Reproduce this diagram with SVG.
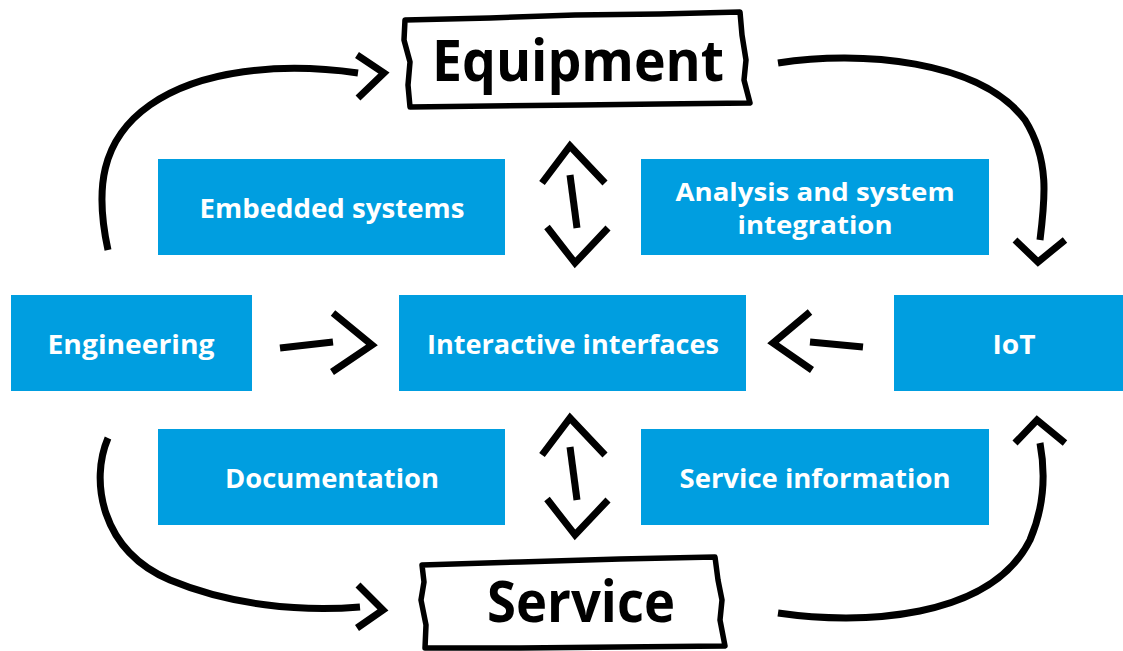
<svg xmlns="http://www.w3.org/2000/svg" width="1123" height="651" viewBox="0 0 1123 651">
<style>
.box{fill:#009EE0}
.bt{fill:#fff;font-family:"Open Sans","DejaVu Sans",sans-serif;font-weight:bold;font-size:27px;text-anchor:middle}
.bt2{fill:#fff;font-family:"Open Sans","DejaVu Sans",sans-serif;font-weight:bold;font-size:25px;text-anchor:middle}
.big{fill:#000;font-family:"Open Sans","DejaVu Sans",sans-serif;font-weight:bold;font-size:58px;text-anchor:middle}
.hand{fill:#fff;stroke:#000;stroke-width:5.5;stroke-linejoin:round}
.ln{fill:none;stroke:#000;stroke-width:7;stroke-linecap:butt;stroke-linejoin:miter}
</style>
<rect width="1123" height="651" fill="#fff"/>
<g id="connectors">
<path class="ln" d="M108,250 C95,190 100,140 150,105 C200,70 280,62 358,73"/>
<path class="ln" d="M357,55 L384,73 L358,98"/>
<path class="ln" d="M778,63 C860,50 980,60 1025,120 C1050,160 1045,200 1040,240"/>
<path class="ln" d="M1015,240 L1038,262 L1065,240"/>
<path class="ln" d="M108,438 C90,480 100,550 170,580 C230,605 300,612 360,607"/>
<path class="ln" d="M358,585 L383,610 L357,628"/>
<path class="ln" d="M778,613 C860,625 990,620 1030,540 C1045,505 1045,470 1040,443"/>
<path class="ln" d="M1015,443 L1037,420 L1065,443"/>
<path class="ln" d="M542,183 L570,146 L605,183"/>
<path class="ln" d="M570,175 L577,228"/>
<path class="ln" d="M547,227 L575,263 L608,228"/>
<g transform="translate(0,272)">
<path class="ln" d="M542,183 L570,146 L605,183"/>
<path class="ln" d="M570,175 L577,228"/>
<path class="ln" d="M547,227 L575,263 L608,228"/>
</g>
<path class="ln" d="M280,348 L333,342"/>
<path class="ln" d="M333,313 L372,345 L332,372"/>
<path class="ln" d="M810,342 L863,347"/>
<path class="ln" d="M810,312 L773,343 L812,370"/>
</g>
<g id="equipment">
<path class="hand" d="M405,20 L490,18 L575,15 L660,14 L740,12 L742,35 L746,60 L744,80 L750,103 L660,104 L580,105 L490,106 L410,107 L408,85 L410,62 L404,40 Z"/>
<text class="big" x="578" y="81" textLength="292" lengthAdjust="spacingAndGlyphs">Equipment</text>
</g>
<g id="service">
<path class="hand" d="M422,565 L520,562 L620,559 L715,557 L718,580 L722,600 L720,620 L725,646 L620,647 L520,648 L425,648 L426,625 L421,600 L424,582 Z"/>
<text class="big" x="581" y="622" textLength="188" lengthAdjust="spacingAndGlyphs">Service</text>
</g>
<g id="embedded">
<rect class="box" x="158" y="159" width="347" height="96"/>
<text class="bt" x="332" y="218" textLength="265" lengthAdjust="spacingAndGlyphs">Embedded systems</text>
</g>
<g id="analysis">
<rect class="box" x="641" y="159" width="348" height="96"/>
<text class="bt2" x="815" y="201" textLength="279" lengthAdjust="spacingAndGlyphs">Analysis and system</text>
<text class="bt2" x="815" y="234" textLength="155" lengthAdjust="spacingAndGlyphs">integration</text>
</g>
<g id="engineering">
<rect class="box" x="11" y="295" width="241" height="96"/>
<text class="bt" x="131" y="354" textLength="167" lengthAdjust="spacingAndGlyphs">Engineering</text>
</g>
<g id="interactive">
<rect class="box" x="399" y="295" width="347" height="96"/>
<text class="bt" x="573" y="354" textLength="292" lengthAdjust="spacingAndGlyphs">Interactive interfaces</text>
</g>
<g id="iot">
<rect class="box" x="894" y="295" width="229" height="96"/>
<text class="bt" x="1014" y="354" textLength="43" lengthAdjust="spacingAndGlyphs">IoT</text>
</g>
<g id="documentation">
<rect class="box" x="158" y="429" width="347" height="96"/>
<text class="bt" x="332" y="488" textLength="214" lengthAdjust="spacingAndGlyphs">Documentation</text>
</g>
<g id="serviceinfo">
<rect class="box" x="641" y="429" width="348" height="96"/>
<text class="bt" x="815" y="488" textLength="271" lengthAdjust="spacingAndGlyphs">Service information</text>
</g>
</svg>
